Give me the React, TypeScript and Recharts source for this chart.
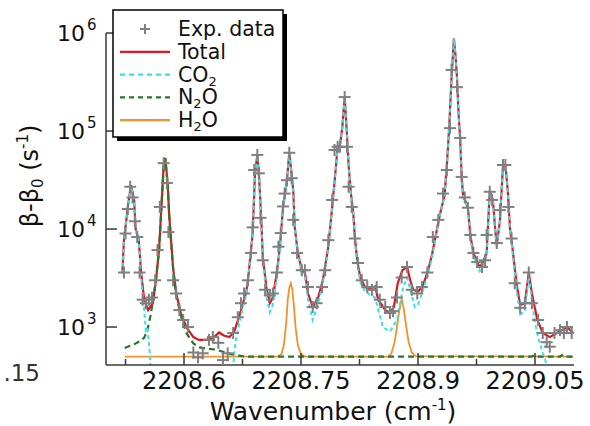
import React from 'react';
import { ComposedChart, Line, Scatter, XAxis, YAxis } from 'recharts';

// wavenumber (cm-1), beta - beta0 (s-1)
const expData: [number, number][] = [
  [2208.523, 3600], [2208.525, 9000], [2208.528, 16000], [2208.531, 27000], [2208.534, 21000],
  [2208.537, 12000], [2208.540, 8300], [2208.543, 3600], [2208.547, 1900], [2208.551, 1750],
  [2208.555, 1900], [2208.559, 2000], [2208.563, 3000], [2208.566, 6100], [2208.569, 16800],
  [2208.574, 47000], [2208.578, 29500], [2208.580, 9300], [2208.586, 3000], [2208.590, 2200],
  [2208.594, 1490], [2208.599, 1180], [2208.605, 1000], [2208.612, 550], [2208.618, 490],
  [2208.624, 540], [2208.632, 740], [2208.637, 790], [2208.644, 690], [2208.650, 460],
  [2208.656, 540], [2208.663, 870], [2208.669, 1260], [2208.673, 1750], [2208.677, 2200],
  [2208.682, 3000], [2208.686, 5700], [2208.688, 10400], [2208.690, 40000], [2208.694, 57000],
  [2208.696, 37000], [2208.698, 13000], [2208.701, 4800], [2208.704, 2400], [2208.710, 2100],
  [2208.714, 2200], [2208.719, 3600], [2208.721, 6600], [2208.724, 9100], [2208.727, 17000],
  [2208.729, 23000], [2208.732, 31500], [2208.735, 60000], [2208.738, 33000], [2208.740, 12400],
  [2208.745, 5700], [2208.751, 3800], [2208.755, 3800], [2208.759, 2560], [2208.765, 1600],
  [2208.770, 1750], [2208.777, 2560], [2208.781, 3800], [2208.785, 7700], [2208.790, 19800],
  [2208.793, 64000], [2208.797, 69000], [2208.800, 69000], [2208.806, 222000], [2208.809, 69000],
  [2208.811, 27000], [2208.815, 16800], [2208.819, 8000], [2208.823, 4500], [2208.828, 3000],
  [2208.835, 2560], [2208.841, 2400], [2208.847, 2560], [2208.851, 1900], [2208.858, 1600],
  [2208.864, 1390], [2208.868, 1450], [2208.873, 2000], [2208.879, 3200], [2208.886, 4100],
  [2208.892, 2400], [2208.899, 2200], [2208.905, 2560], [2208.912, 3600], [2208.919, 8300],
  [2208.926, 12400], [2208.932, 23000], [2208.937, 40000], [2208.941, 107000], [2208.943, 420000],
  [2208.950, 280000], [2208.954, 85000], [2208.956, 34000], [2208.960, 21000], [2208.964, 16500],
  [2208.967, 8700], [2208.971, 5700], [2208.976, 4600], [2208.982, 4100], [2208.986, 4800],
  [2208.988, 8700], [2208.992, 24000], [2208.995, 19800], [2209.001, 7200], [2209.005, 15600],
  [2209.009, 45000], [2209.012, 45000], [2209.016, 16800], [2209.020, 8000], [2209.024, 2800],
  [2209.031, 1570], [2209.037, 1750], [2209.042, 3600], [2209.046, 1750], [2209.054, 1180],
  [2209.060, 870], [2209.065, 700], [2209.069, 630], [2209.075, 870], [2209.082, 930],
  [2209.087, 870], [2209.091, 1000], [2209.097, 870],
];

const totalFit: [number, number][] = [
  [2208.521, 3600], [2208.523, 7700], [2208.528, 16800], [2208.532, 28000], [2208.536, 20000],
  [2208.538, 10000], [2208.542, 7700], [2208.545, 3600], [2208.549, 1900], [2208.554, 1490],
  [2208.560, 1750], [2208.564, 3000], [2208.568, 6100], [2208.571, 16800], [2208.574, 45000],
  [2208.576, 53000], [2208.579, 29500], [2208.581, 14000], [2208.586, 4000], [2208.590, 2200],
  [2208.596, 1390], [2208.603, 1000], [2208.612, 790], [2208.619, 740], [2208.628, 740],
  [2208.637, 770], [2208.645, 880], [2208.651, 820], [2208.658, 790], [2208.664, 880],
  [2208.671, 1300], [2208.676, 1800], [2208.680, 2300], [2208.683, 3600], [2208.688, 9000],
  [2208.691, 37000], [2208.694, 57000], [2208.696, 37000], [2208.699, 13000], [2208.701, 5200],
  [2208.706, 2400], [2208.710, 1750], [2208.714, 2000], [2208.719, 3600], [2208.723, 6600],
  [2208.727, 16800], [2208.732, 31500], [2208.735, 60000], [2208.737, 43000], [2208.740, 25000],
  [2208.742, 10400], [2208.746, 5700], [2208.751, 3800], [2208.755, 3600], [2208.759, 2200],
  [2208.765, 1600], [2208.772, 2000], [2208.778, 3000], [2208.785, 6600], [2208.790, 16800],
  [2208.794, 37000], [2208.797, 70000], [2208.800, 72000], [2208.803, 110000], [2208.806, 222000],
  [2208.809, 90000], [2208.811, 45000], [2208.814, 23000], [2208.817, 14600], [2208.819, 8300],
  [2208.822, 4800], [2208.826, 3200], [2208.832, 2560], [2208.838, 2400], [2208.845, 2600],
  [2208.849, 1900], [2208.858, 1490], [2208.864, 1390], [2208.869, 1600], [2208.874, 2800],
  [2208.880, 3800], [2208.886, 4100], [2208.890, 3000], [2208.894, 2400], [2208.900, 2300],
  [2208.906, 2600], [2208.913, 3800], [2208.918, 5500], [2208.922, 8000], [2208.928, 14000],
  [2208.934, 22000], [2208.937, 45000], [2208.940, 110000], [2208.943, 350000], [2208.946, 880000],
  [2208.948, 600000], [2208.950, 350000], [2208.952, 150000], [2208.954, 85000], [2208.956, 34000],
  [2208.958, 21000], [2208.960, 20000], [2208.964, 16500], [2208.967, 8700], [2208.971, 5700],
  [2208.976, 4600], [2208.979, 4100], [2208.983, 4500], [2208.988, 5700], [2208.990, 12000],
  [2208.992, 24000], [2208.996, 19800], [2208.999, 9800], [2209.001, 6900], [2209.005, 12000],
  [2209.009, 45000], [2209.012, 45000], [2209.015, 25000], [2209.018, 10000], [2209.021, 6500],
  [2209.024, 4000], [2209.027, 2560], [2209.031, 1680], [2209.037, 1750], [2209.042, 3600],
  [2209.046, 2200], [2209.053, 1180], [2209.060, 870], [2209.069, 790], [2209.078, 870],
  [2209.091, 1000], [2209.099, 870],
];

const co2Fit: [number, number][] = [
  [2208.521, 3500], [2208.523, 7600], [2208.528, 16500], [2208.532, 27500], [2208.536, 19500],
  [2208.538, 9800], [2208.542, 7400], [2208.545, 3300], [2208.549, 1450], [2208.551, 930],
  [2208.553, 1000], [2208.556, 560], [2208.558, 300], [2208.561, 150], [2208.660, 150],
  [2208.663, 400], [2208.666, 700], [2208.671, 1100], [2208.676, 1650], [2208.680, 2200],
  [2208.683, 3500], [2208.688, 8800], [2208.691, 36000], [2208.694, 56000], [2208.696, 36000],
  [2208.699, 12500], [2208.701, 4900], [2208.706, 2000], [2208.710, 1420], [2208.714, 1700],
  [2208.719, 3300], [2208.723, 6300], [2208.727, 16500], [2208.732, 31000], [2208.735, 59000],
  [2208.737, 42000], [2208.740, 24000], [2208.742, 10000], [2208.746, 5500], [2208.751, 3500],
  [2208.755, 3300], [2208.759, 1900], [2208.765, 1180], [2208.772, 1700], [2208.778, 2800],
  [2208.785, 6400], [2208.790, 16500], [2208.794, 36500], [2208.797, 69000], [2208.800, 71000],
  [2208.803, 109000], [2208.806, 221000], [2208.809, 89000], [2208.811, 44000], [2208.814, 22500],
  [2208.817, 14200], [2208.819, 8000], [2208.822, 4500], [2208.826, 2900], [2208.832, 2300],
  [2208.838, 2150], [2208.845, 2000], [2208.849, 1500], [2208.855, 1000], [2208.864, 900],
  [2208.873, 1180], [2208.881, 2560], [2208.886, 3200], [2208.890, 2400], [2208.896, 1600],
  [2208.900, 1700], [2208.905, 2200], [2208.913, 3500], [2208.918, 5200], [2208.922, 7700],
  [2208.928, 13700], [2208.934, 21500], [2208.937, 44500], [2208.940, 109000], [2208.943, 349000],
  [2208.946, 879000], [2208.948, 599000], [2208.950, 349000], [2208.952, 149000], [2208.954, 84000],
  [2208.956, 33500], [2208.958, 20500], [2208.960, 19500], [2208.964, 16000], [2208.967, 8300],
  [2208.971, 5300], [2208.976, 4200], [2208.979, 3700], [2208.983, 4100], [2208.988, 5300],
  [2208.990, 11500], [2208.992, 23500], [2208.996, 19300], [2208.999, 9400], [2209.001, 6500],
  [2209.005, 11500], [2209.009, 44500], [2209.012, 44500], [2209.015, 24500], [2209.018, 9600],
  [2209.021, 6100], [2209.024, 3600], [2209.027, 2200], [2209.031, 1350], [2209.037, 1450],
  [2209.042, 3300], [2209.046, 1900], [2209.050, 1100], [2209.054, 790], [2209.060, 540],
  [2209.067, 380], [2209.075, 200], [2209.099, 60],
];

const n2oFit: [number, number][] = [
  [2208.524, 610], [2208.530, 640], [2208.538, 680], [2208.545, 730], [2208.549, 780],
  [2208.553, 930], [2208.557, 1300], [2208.560, 1800], [2208.564, 3000], [2208.568, 6000],
  [2208.571, 16000], [2208.574, 45000], [2208.576, 53000], [2208.579, 29000], [2208.581, 14000],
  [2208.586, 4000], [2208.590, 2100], [2208.596, 1300], [2208.603, 870], [2208.612, 680],
  [2208.620, 620], [2208.630, 600], [2208.640, 590], [2208.650, 560], [2208.660, 530],
  [2208.670, 510], [2208.680, 500], [2209.045, 500], [2209.050, 515], [2209.055, 500],
  [2209.082, 500], [2209.086, 525], [2209.090, 500], [2209.099, 500],
];

const h2oFit: [number, number][] = [
  [2208.524, 500], [2208.720, 500], [2208.725, 530], [2208.728, 650], [2208.731, 1100],
  [2208.733, 1900], [2208.735, 2500], [2208.737, 2800], [2208.739, 2400], [2208.741, 1600],
  [2208.743, 1000], [2208.746, 650], [2208.750, 530], [2208.755, 500], [2208.862, 500],
  [2208.866, 540], [2208.870, 700], [2208.873, 1000], [2208.876, 1450], [2208.879, 1950],
  [2208.882, 1500], [2208.885, 1000], [2208.888, 700], [2208.892, 550], [2208.897, 505],
  [2209.099, 500],
];

const xTicks = [2208.525, 2208.6, 2208.675, 2208.75, 2208.825, 2208.9, 2208.975, 2209.05];
const xTickLabels = ['', '2208.6', '', '2208.75', '', '2208.9', '', '2209.05'];
const yTicks = [1e3, 1e4, 1e5, 1e6];
const yTickExponents = ['3', '4', '5', '6'];

const FONT = '"DejaVu Sans", sans-serif';
const AXIS = '#3a3a3a';
const RED = '#e3141e';
const CYAN = '#35e3e6';
const GREEN = '#23782c';
const ORANGE = '#f2922c';
const GRAY = '#808080';

const toRows = (pts: [number, number][]) => pts.map(([wn, v]) => ({ wn, v }));

const PlusMark = ({ cx, cy, size = 6 }: any) => (
  <g stroke={GRAY} strokeWidth={2}>
    <line x1={cx - size} x2={cx + size} y1={cy} y2={cy} />
    <line x1={cx} x2={cx} y1={cy - size} y2={cy + size} />
  </g>
);

const BottomTick = (props: any) => {
  const { x, y, index } = props;
  const label = xTickLabels[index];
  return (
    <g>
      <line x1={x} x2={x} y1={y} y2={y - (label ? 12 : 6)} stroke={AXIS} strokeWidth={1.5} />
      {label && (
        <text x={x} y={y + 24} textAnchor="middle" fontSize={24} fill="#111" fontFamily={FONT}>
          {label}
        </text>
      )}
    </g>
  );
};

const TopTick = (props: any) => {
  const { x, y, index } = props;
  return (
    <line x1={x} x2={x} y1={y} y2={y + (xTickLabels[index] ? 12 : 6)} stroke={AXIS} strokeWidth={1.5} />
  );
};

const LeftTick = (props: any) => {
  const { x, y, index } = props;
  return (
    <g fontFamily={FONT} fill="#111">
      <line x1={x} x2={x + 11} y1={y} y2={y} stroke={AXIS} strokeWidth={1.5} />
      <text x={x - 21} y={y + 8} textAnchor="end" fontSize={22}>10</text>
      <text x={x - 19} y={y - 3} fontSize={15}>{yTickExponents[index]}</text>
    </g>
  );
};

const RightTick = (props: any) => {
  const { x, y } = props;
  return <line x1={x} x2={x - 11} y1={y} y2={y} stroke={AXIS} strokeWidth={1.5} />;
};

// digits in a formula become subscripts
const Formula = ({ text }: { text: string }) => {
  let shifted = false;
  return (
    <>
      {text.split('').map((ch, i) => {
        const isSub = /[0-9]/.test(ch);
        const dy = isSub && !shifted ? 4 : !isSub && shifted ? -4 : 0;
        shifted = isSub;
        return (
          <tspan key={i} dy={dy} fontSize={isSub ? 13 : undefined}>
            {ch}
          </tspan>
        );
      })}
    </>
  );
};

const legendItems = [
  { name: 'Exp. data', color: GRAY, dash: '', marker: true },
  { name: 'Total', color: RED, dash: '', marker: false },
  { name: 'CO2', color: CYAN, dash: '5 4', marker: false },
  { name: 'N2O', color: GREEN, dash: '5 4', marker: false },
  { name: 'H2O', color: ORANGE, dash: '', marker: false },
];

export default function App() {
  return (
    <div style={{ position: 'absolute', left: 0, top: 0, width: 590, height: 426, background: '#fff' }}>
      <ComposedChart width={590} height={426} margin={{ top: 33, right: 16, bottom: 0, left: 0 }}>
        <XAxis
          type="number"
          dataKey="wn"
          domain={[2208.5, 2209.1]}
          allowDataOverflow
          ticks={xTicks}
          interval={0}
          height={61}
          tickLine={false}
          tickSize={0}
          tickMargin={0}
          tick={(p: any) => <BottomTick {...p} />}
          axisLine={{ stroke: AXIS, strokeWidth: 1.5 }}
        />
        <XAxis
          xAxisId="top"
          orientation="top"
          type="number"
          dataKey="wn"
          domain={[2208.5, 2209.1]}
          allowDataOverflow
          ticks={xTicks}
          interval={0}
          height={0}
          tickLine={false}
          tickSize={0}
          tickMargin={0}
          tick={(p: any) => <TopTick {...p} />}
          axisLine={{ stroke: AXIS, strokeWidth: 1.5 }}
        />
        <YAxis
          type="number"
          scale="log"
          domain={[410, 1e6]}
          allowDataOverflow
          ticks={yTicks}
          interval={0}
          width={106}
          tickLine={false}
          tickSize={0}
          tickMargin={0}
          tick={(p: any) => <LeftTick {...p} />}
          axisLine={{ stroke: AXIS, strokeWidth: 1.5 }}
        />
        <YAxis
          yAxisId="right"
          orientation="right"
          type="number"
          scale="log"
          domain={[410, 1e6]}
          allowDataOverflow
          ticks={yTicks}
          interval={0}
          width={0}
          tickLine={false}
          tickSize={0}
          tickMargin={0}
          tick={(p: any) => <RightTick {...p} />}
          axisLine={{ stroke: AXIS, strokeWidth: 1.5 }}
        />
        {/* keeps the mirrored frame axes bound to data */}
        <Line data={toRows(h2oFit)} xAxisId="top" yAxisId="right" dataKey="v" stroke="none" dot={false} activeDot={false} isAnimationActive={false} />
        <Line data={toRows(h2oFit)} dataKey="v" stroke={ORANGE} strokeWidth={1.8} dot={false} activeDot={false} isAnimationActive={false} />
        <Line data={toRows(totalFit)} dataKey="v" stroke={RED} strokeWidth={2.2} dot={false} activeDot={false} isAnimationActive={false} />
        <Line data={toRows(n2oFit)} dataKey="v" stroke={GREEN} strokeWidth={2.2} strokeDasharray="6 4" dot={false} activeDot={false} isAnimationActive={false} />
        <Line data={toRows(co2Fit)} dataKey="v" stroke={CYAN} strokeWidth={2} strokeDasharray="4 3" dot={false} activeDot={false} isAnimationActive={false} />
        <Scatter data={toRows(expData)} dataKey="v" isAnimationActive={false} shape={(p: any) => <PlusMark cx={p.cx} cy={p.cy} />} />
      </ComposedChart>

      <svg width={590} height={426} style={{ position: 'absolute', left: 0, top: 0, pointerEvents: 'none' }} fontFamily={FONT}>
        <text x={333} y={420} textAnchor="middle" fontSize={25} fill="#111">
          Wavenumber (cm<tspan fontSize={15} dy={-10}>-1</tspan>
          <tspan dy={10}>)</tspan>
        </text>
        <text x={38} y={176} transform="rotate(-90 38 176)" textAnchor="middle" fontSize={24} fill="#111">
          β-β<tspan fontSize={15} dy={5}>0</tspan>
          <tspan dy={-5}> (s</tspan>
          <tspan fontSize={15} dy={-10}>-1</tspan>
          <tspan dy={10}>)</tspan>
        </text>
        <text x={40} y={381} textAnchor="end" fontSize={23} fill="#333">.15</text>

        <rect x={117} y={14} width={170} height={127} fill="#000" />
        <rect x={113} y={10} width={170} height={127} fill="#fff" stroke="#000" strokeWidth={1.5} />
        {legendItems.map((item, i) => {
          const cy = 29 + i * 22.8;
          return (
            <g key={item.name}>
              {item.marker ? (
                <PlusMark cx={145} cy={cy} size={5} />
              ) : (
                <line x1={120} x2={170} y1={cy} y2={cy} stroke={item.color} strokeWidth={2.2} strokeDasharray={item.dash || undefined} />
              )}
              <text x={178} y={cy + 7} fontSize={20.5} fill="#111">
                <Formula text={item.name} />
              </text>
            </g>
          );
        })}
      </svg>
    </div>
  );
}
